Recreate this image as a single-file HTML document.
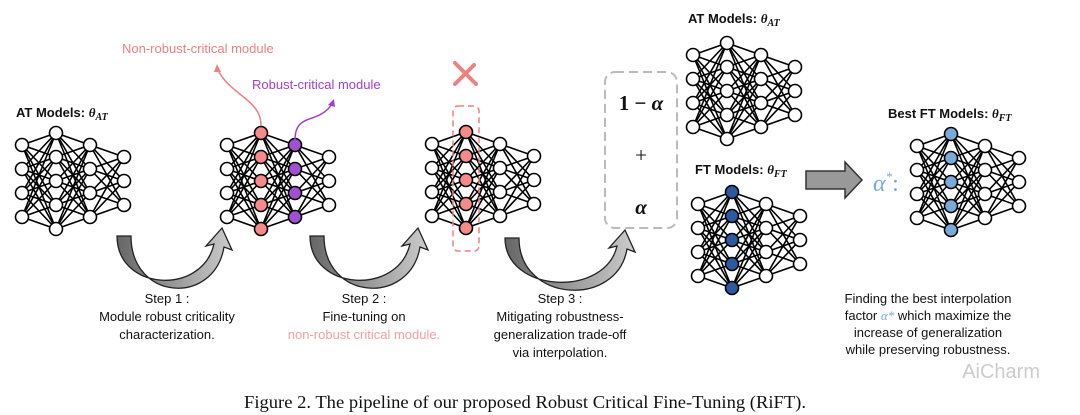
<!DOCTYPE html>
<html><head><meta charset="utf-8"><style>
body{margin:0;background:#fff;}
svg{display:block;}
.sans{font-family:"Liberation Sans",sans-serif;}
.ser{font-family:"Liberation Serif",serif;}
</style></head><body>
<svg id="s" width="1080" height="415" viewBox="0 0 1080 415" xmlns="http://www.w3.org/2000/svg" class="sans">
<defs>
<linearGradient id="ag" x1="0" x2="1" y1="0" y2="0">
<stop offset="0" stop-color="#666"/><stop offset="0.5" stop-color="#999"/><stop offset="1" stop-color="#ccc"/>
</linearGradient>
</defs>
<g id="nets"></g>
<text x="16" y="117" font-size="13" font-weight="bold" fill="#111">AT Models: <tspan class="ser" font-style="italic">θ</tspan><tspan class="ser" font-style="italic" font-size="10" dy="3">AT</tspan></text>
<text x="122" y="53" font-size="13" fill="#f08080">Non-robust-critical module</text>
<text x="252" y="89" font-size="13" fill="#a040d0">Robust-critical module</text>
<path d="M261,126 C262,100 230,95 218,70" stroke="#f08080" stroke-width="1.5" fill="none"/>
<path d="M214,72 l3,-8 l4,8" fill="#f08080"/>
<path d="M295,140 C295,112 318,125 332,104" stroke="#a040d0" stroke-width="1.5" fill="none"/>
<path d="M328,105 l6,-6 l1,8" fill="#a040d0"/>
<g stroke="#f08080" stroke-width="4" stroke-linecap="round">
<line x1="455" y1="63" x2="476" y2="84"/><line x1="455" y1="84" x2="474" y2="65"/>
</g>
<rect x="453" y="106" width="26" height="145" rx="5" fill="none" stroke="#f08080" stroke-width="1.5" stroke-dasharray="6,4"/>
<rect x="605" y="72" width="72" height="156" rx="10" fill="none" stroke="#bbb" stroke-width="2" stroke-dasharray="9,5"/>
<text x="641" y="110" font-size="21" font-weight="bold" text-anchor="middle" class="ser" fill="#111">1 − <tspan font-style="italic">α</tspan></text>
<text x="641" y="162" font-size="21" text-anchor="middle" class="ser" fill="#111">+</text>
<text x="641" y="214" font-size="21" font-weight="bold" font-style="italic" text-anchor="middle" class="ser" fill="#111">α</text>
<text x="688" y="23" font-size="13" font-weight="bold" fill="#111">AT Models: <tspan class="ser" font-style="italic">θ</tspan><tspan class="ser" font-style="italic" font-size="10" dy="3">AT</tspan></text>
<text x="695" y="174" font-size="13" font-weight="bold" fill="#111">FT Models: <tspan class="ser" font-style="italic">θ</tspan><tspan class="ser" font-style="italic" font-size="10" dy="3">FT</tspan></text>
<text x="888" y="118" font-size="13" font-weight="bold" fill="#111">Best FT Models: <tspan class="ser" font-style="italic">θ</tspan><tspan class="ser" font-style="italic" font-size="10" dy="3">FT</tspan></text>
<path d="M806,171 H845 V162 L862,180 L845,198 V189 H806 Z" fill="#999" stroke="#333" stroke-width="1.5"/>
<text x="873" y="191" font-size="24" font-style="italic" class="ser" fill="#7aa8d8">α<tspan font-size="13" dy="-10">*</tspan><tspan dy="10" font-style="normal">:</tspan></text>
<g id="arrows"></g>
<g font-size="13" fill="#111" text-anchor="middle">
<text x="167" y="303">Step 1 :</text>
<text x="167" y="321">Module robust criticality</text>
<text x="167" y="339">characterization.</text>
<text x="364" y="303">Step 2 :</text>
<text x="364" y="321">Fine-tuning on</text>
<text x="364" y="339" fill="#f4a0a0">non-robust critical module.</text>
<text x="560" y="303">Step 3 :</text>
<text x="560" y="321">Mitigating robustness-</text>
<text x="560" y="339">generalization trade-off</text>
<text x="560" y="357">via interpolation.</text>
<text x="928" y="303">Finding the best interpolation</text>
<text x="928" y="320">factor <tspan class="ser" font-style="italic" fill="#7aa8d8">α*</tspan> which maximize the</text>
<text x="928" y="337">increase of generalization</text>
<text x="928" y="354">while preserving robustness.</text>
</g>
<text x="525" y="408" font-size="18" class="ser" text-anchor="middle" fill="#111" textLength="562" lengthAdjust="spacingAndGlyphs">Figure 2. The pipeline of our proposed Robust Critical Fine-Tuning (RiFT).</text>
<text x="1040" y="378" font-size="20" text-anchor="end" fill="#ccc">AiCharm</text>
</svg>
<script>
var NS="http://www.w3.org/2000/svg",g=document.getElementById('nets');
function el(t,a){var e=document.createElementNS(NS,t);for(var k in a)e.setAttribute(k,a[k]);return e;}
function net(x0,cy,c2,c3){
 var sizes=[4,5,4,3],L=[];
 for(var i=0;i<4;i++){var pts=[];for(var j=0;j<sizes[i];j++)pts.push([x0+i*34,cy+(j-(sizes[i]-1)/2)*24]);L.push(pts);}
 for(var i=0;i<3;i++)L[i].forEach(function(a){L[i+1].forEach(function(b){g.appendChild(el('line',{x1:a[0],y1:a[1],x2:b[0],y2:b[1],stroke:'#000','stroke-width':1.6}));});});
 L.forEach(function(p,i){var f=i==1&&c2?c2:(i==2&&c3?c3:'#fff');p.forEach(function(q){g.appendChild(el('circle',{cx:q[0],cy:q[1],r:6.5,fill:f,stroke:'#000','stroke-width':1.6}));});});
}
net(22,181);net(227,181,'#f48a8a','#a050d0');net(432,180,'#f48a8a');
net(693,91);net(698,240,'#2c5aa0');net(917,182,'#7aaad8');
var A=document.getElementById('arrows');
function arc(x1,x2,y){
 var d='M'+x1+','+y+' C'+(x1)+','+(y+55)+' '+(x2-20)+','+(y+60)+' '+(x2-8)+','+(y+8)+' L'+(x2-16)+','+(y+10)+' L'+(x2)+','+(y-8)+' L'+(x2+10)+','+(y+14)+' L'+(x2+2)+','+(y+11)+' C'+(x2-8)+','+(y+70)+' '+(x1+14)+','+(y+65)+' '+(x1+14)+','+y+' Z';
 A.appendChild(el('path',{d:d,fill:'url(#ag)',stroke:'#222','stroke-width':1.3}));
}
arc(117,222,236);arc(310,418,236);arc(505,625,238);
</script>
</body></html>
